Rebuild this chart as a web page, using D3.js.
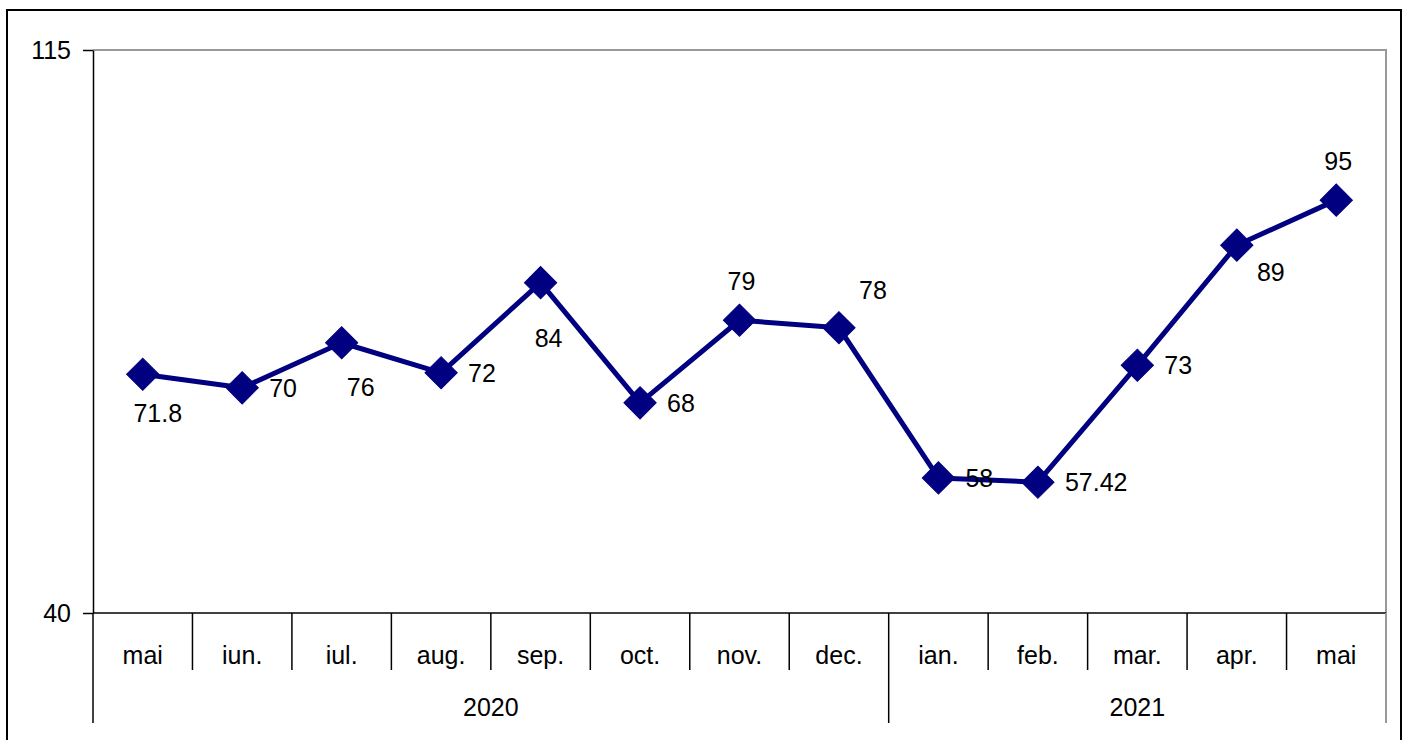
<!DOCTYPE html>
<html><head><meta charset="utf-8">
<script src="https://cdn.jsdelivr.net/npm/d3@7"></script>
<style>html,body{margin:0;padding:0;background:#fff;overflow:hidden}svg{display:block}text{font-family:"Liberation Sans",Arial,sans-serif}</style>
</head><body>
<script>
const months = ["mai","iun.","iul.","aug.","sep.","oct.","nov.","dec.","ian.","feb.","mar.","apr.","mai"];
const years = ["2020","2021"];
const yearOfMonth = [0,0,0,0,0,0,0,0,1,1,1,1,1];
const values = [71.8,70,76,72,84,68,79,78,58,57.42,73,89,95];
const valueLabels = ["71.8","70","76","72","84","68","79","78","58","57.42","73","89","95"];
const labelPlacement = ["below","right","belowRight","right","below","right","above","aboveRight","right","right","right","belowRight","above"];
const yTicks = [40,115];

(function(){
const W=1408,H=740;
const svg=d3.select("body").append("svg").attr("width",W).attr("height",H);
svg.append("rect").attr("x",7).attr("y",10).attr("width",1394).attr("height",760).attr("fill","#fff").attr("stroke","#000").attr("stroke-width",2);

const pl=93,pr=1386,pt=50,pb=613;
const x=d3.scaleBand().domain(d3.range(months.length)).range([pl,pr]).paddingInner(0).paddingOuter(0);
const y=d3.scaleLinear().domain([40,115]).range([pb,pt]);
const fs=25;

svg.append("path").attr("d",`M${pl},${pt}H${pr}V${pb}`).attr("fill","none").attr("stroke","#999").attr("stroke-width",2);

const yAxis=d3.axisLeft(y).tickValues(yTicks).tickSize(10).tickSizeOuter(0).tickPadding(12);
const ga=svg.append("g").attr("transform",`translate(${pl},0)`).call(yAxis);
ga.select(".domain").attr("stroke","#000").attr("stroke-width",1.5);
ga.selectAll(".tick line").attr("stroke","#000").attr("stroke-width",1.5);
ga.selectAll(".tick text").attr("font-size",fs).attr("fill","#000").attr("font-family","Liberation Sans, Arial, sans-serif");

svg.append("line").attr("x1",pl).attr("x2",pr).attr("y1",pb).attr("y2",pb).attr("stroke","#000").attr("stroke-width",1.5);

const catBottom=670, yearBottom=723;
d3.range(months.length+1).forEach(i=>{
  const xx = i<months.length ? x(i) : pr;
  const isYearBoundary = i===0 || i===months.length || yearOfMonth[i]!==yearOfMonth[i-1];
  svg.append("line").attr("x1",xx).attr("x2",xx).attr("y1",pb).attr("y2",isYearBoundary?yearBottom:catBottom)
    .attr("stroke", i===months.length?"#999":"#000").attr("stroke-width",i===months.length?2:1.5);
});
svg.selectAll("text.cat").data(months).join("text").attr("class","cat")
  .attr("x",(d,i)=>x(i)+x.bandwidth()/2).attr("y",655+9).attr("text-anchor","middle").attr("font-size",fs).text(d=>d);

years.forEach((yr,k)=>{
  const idx=d3.range(months.length).filter(i=>yearOfMonth[i]===k);
  const x0=x(idx[0]), x1=x(idx[idx.length-1])+x.bandwidth();
  svg.append("text").attr("x",(x0+x1)/2).attr("y",707+9).attr("text-anchor","middle").attr("font-size",fs).text(yr);
});

const cx=i=>x(i)+x.bandwidth()/2;
const line=d3.line().x((d,i)=>cx(i)).y(d=>y(d));
svg.append("path").datum(values).attr("d",line).attr("fill","none").attr("stroke","#000080").attr("stroke-width",5).attr("stroke-linejoin","round");

const sym=d3.symbol().type(d3.symbolSquare).size(520);
svg.selectAll("path.mk").data(values).join("path").attr("class","mk")
  .attr("d",sym).attr("transform",(d,i)=>`translate(${cx(i)},${y(d)}) rotate(45)`)
  .attr("fill","#000080").attr("stroke","#000080").attr("stroke-width",1);

const off={below:[15,39,"middle"],right:[27,0,"start"],belowRight:[19,44,"middle"],above:[2,-39,"middle"],aboveRight:[34,-38,"middle"]};
const offOverride={4:[8,55,"middle"],11:[34,27,"middle"]};
svg.selectAll("text.lbl").data(values).join("text").attr("class","lbl")
  .each(function(d,i){
    const o=offOverride[i]||off[labelPlacement[i]];
    d3.select(this).attr("x",cx(i)+o[0]).attr("y",y(d)+o[1]+9).attr("text-anchor",o[2]);
  })
  .attr("font-size",fs).attr("fill","#000").text((d,i)=>valueLabels[i]);
})();
</script>
</body></html>
